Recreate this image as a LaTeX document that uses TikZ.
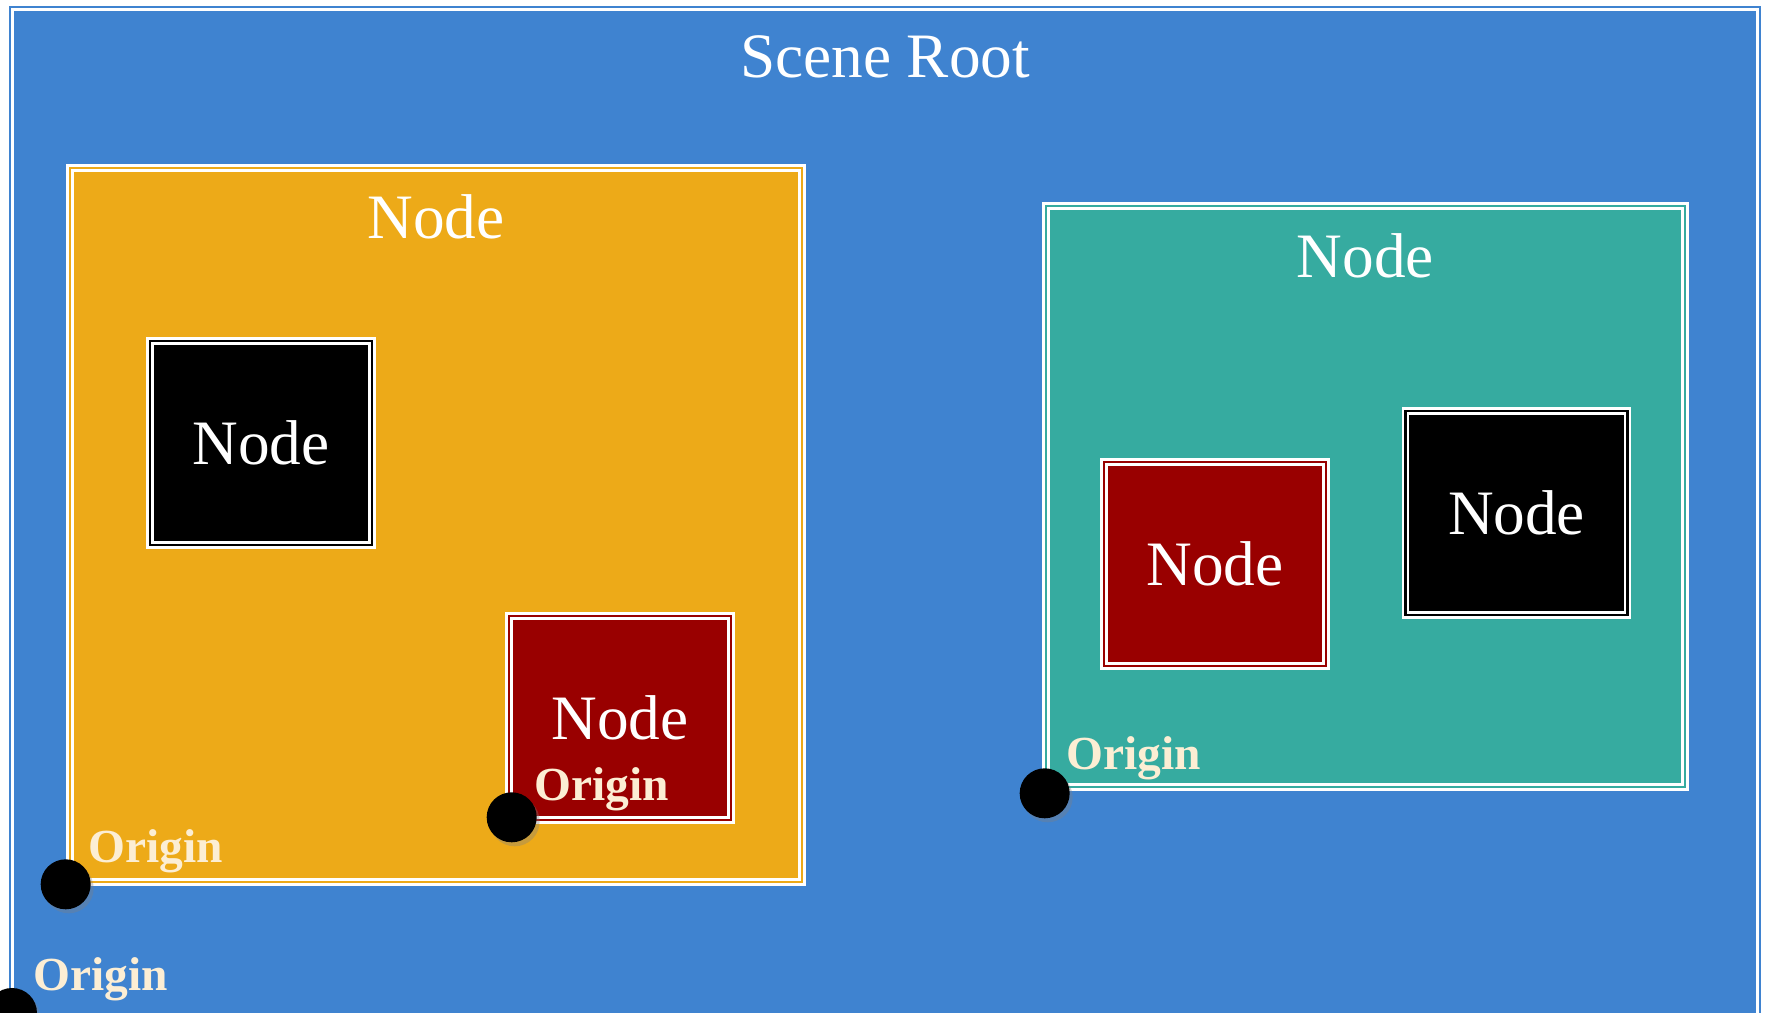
\documentclass[tikz,border=0pt]{standalone}
\usepackage{fontspec}
\setmainfont{Liberation Serif}
\usetikzlibrary{positioning,shadows}
\definecolor{sceneblue}{RGB}{63,131,208}
\definecolor{amber}{RGB}{237,170,24}
\definecolor{seagreen}{RGB}{54,171,160}
\definecolor{nodered}{RGB}{153,0,0}
\definecolor{cream}{RGB}{252,238,212}

\begin{document}
\begin{tikzpicture}[
  panel/.style={draw=white, double=#1, double distance=0.7pt, line width=0.75pt, fill=#1, inner sep=0pt},
  leaf/.style={panel=#1, minimum width=2.22cm, minimum height=2.04cm, text=white, font=\fontsize{18}{22}\selectfont},
  title/.style={text=white, font=\fontsize{18}{22}\selectfont},
  pivot/.style={circle, fill=black, minimum size=0.5cm, inner sep=0pt,
    drop shadow={shadow xshift=0.03cm, shadow yshift=-0.04cm, opacity=0.35}},
  pivotlabel/.style={anchor=base west, inner sep=0pt, text=cream, font=\fontsize{13.5}{16}\selectfont\bfseries}
]
  % Page and clipping
  \useasboundingbox (0,0) rectangle (17.69,10.13);
  \fill[white] (0,0) rectangle (17.69,10.13);
  \clip (0,0) rectangle (17.69,10.13);

  % Scene root
  \node[panel=sceneblue, minimum width=17.50cm, minimum height=10.54cm] (root) at (8.85,4.79) {};
  \node[title] (roottitle) at ([yshift=-0.51cm]root.north) {Scene Root};

  % Left container and its children
  \node[panel=amber, minimum width=7.32cm, minimum height=7.14cm] (left) at (4.36,4.88) {};
  \node[title] (lefttitle) at ([yshift=-0.50cm]left.north) {Node};
  \node[leaf=black] (leftblack) at (2.61,5.70) {Node};
  \node[leaf=nodered] (leftred) at (6.20,2.95) {Node};

  % Right container and its children
  \node[panel=seagreen, minimum width=6.39cm, minimum height=5.81cm] (right) at (13.655,5.165) {};
  \node[title] (righttitle) at ([yshift=-0.51cm]right.north) {Node};
  \node[leaf=nodered] (rightred) at (12.15,4.49) {Node};
  \node[leaf=black] (rightblack) at (15.165,5.00) {Node};

  % Origins
  \node[pivot] (rootorigin) at (0.12,0.0) {};
  \node[pivot] (leftorigin) at ([shift={(-0.03,-0.01)}]left.south west) {};
  \node[pivot] (redorigin) at ([shift={(0.04,0.04)}]leftred.south west) {};
  \node[pivot] (rightorigin) at ([shift={(0.0,-0.05)}]right.south west) {};

  \node[pivotlabel] (rootlabel) at ([shift={(0.21,0.22)}]rootorigin.center) {Origin};
  \node[pivotlabel] (leftlabel) at ([shift={(0.22,0.22)}]leftorigin.center) {Origin};
  \node[pivotlabel] (redlabel) at ([shift={(0.22,0.17)}]redorigin.center) {Origin};
  \node[pivotlabel] (rightlabel) at ([shift={(0.21,0.24)}]rightorigin.center) {Origin};
\end{tikzpicture}
\end{document}
